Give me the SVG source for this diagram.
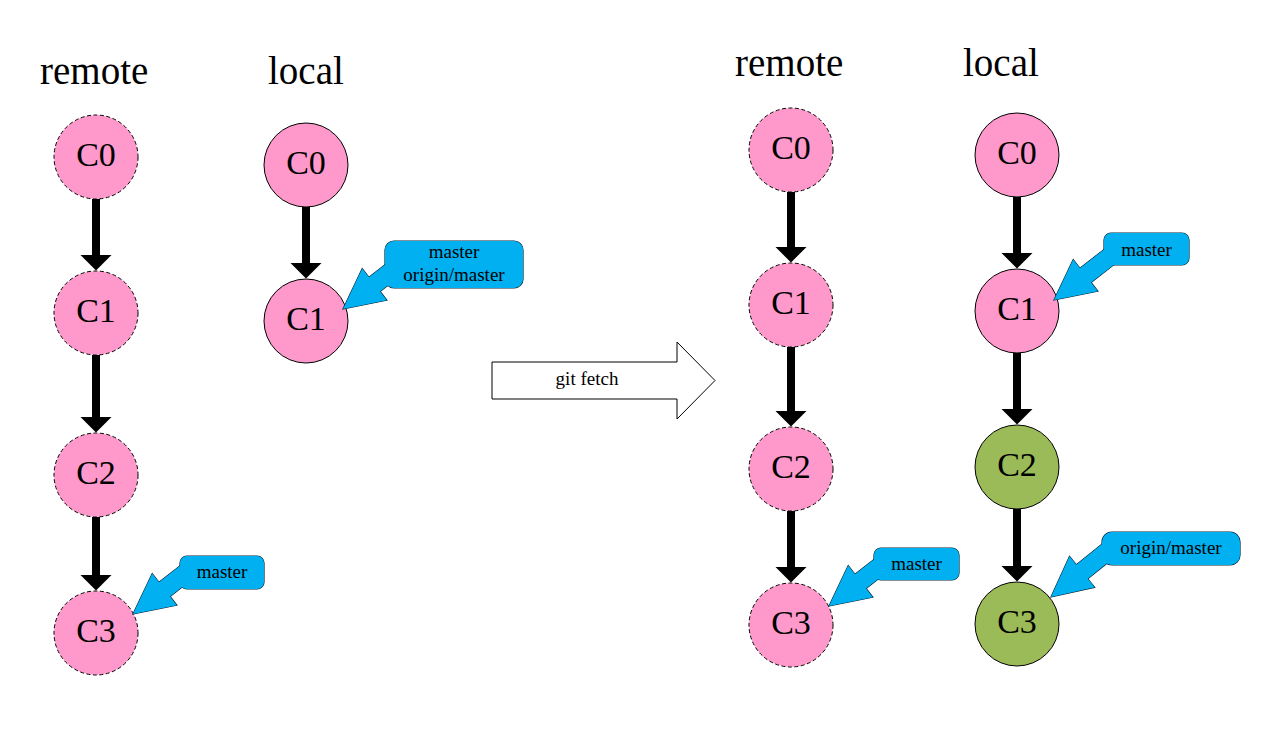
<svg xmlns="http://www.w3.org/2000/svg" width="1269" height="732" viewBox="0 0 1269 732">
<defs>
<style>
.title{font-family:"Liberation Serif","Times New Roman",serif;font-size:39px;fill:#000}
.lbl{font-family:"Liberation Serif","Times New Roman",serif;font-size:34px;fill:#000;text-anchor:middle}
.ctext{font-family:"Liberation Serif","Times New Roman",serif;font-size:19px;fill:#000;text-anchor:middle}
.remote{fill:#FF99CC;stroke:#000;stroke-width:1;stroke-dasharray:4 2.5}
.pink{fill:#FF99CC;stroke:#000;stroke-width:1}
.green{fill:#9BBB59;stroke:#000;stroke-width:1}
.edge{stroke:#000;stroke-width:8;fill:none}
.cs{fill:#00B0F0;stroke:#0a2230;stroke-width:1.2}
.cf{fill:#00B0F0;stroke:none}
</style>
<marker id="ah" markerUnits="userSpaceOnUse" markerWidth="17" markerHeight="34" viewBox="0 -17 17 34" refX="0.5" refY="0" orient="auto">
<path d="M0,-16 L16,0 L0,16 z" fill="#000"/>
</marker>
<polygon id="ptr" points="0,0 40,-20 40,-9 75,-9 75,9 40,9 40,20"/>
</defs>
<rect width="1269" height="732" fill="#fff"/>

<text class="title" x="40" y="84">remote</text>
<text class="title" x="268" y="84">local</text>
<text class="title" x="735" y="76">remote</text>
<text class="title" x="963" y="76">local</text>

<g id="connectors">
<line class="edge" x1="96" y1="199" x2="96" y2="255" marker-end="url(#ah)"/>
<line class="edge" x1="96" y1="355" x2="96" y2="417" marker-end="url(#ah)"/>
<line class="edge" x1="96" y1="517" x2="96" y2="575" marker-end="url(#ah)"/>
<line class="edge" x1="306" y1="207" x2="306" y2="263" marker-end="url(#ah)"/>
<line class="edge" x1="791" y1="192" x2="791" y2="247" marker-end="url(#ah)"/>
<line class="edge" x1="791" y1="347" x2="791" y2="411" marker-end="url(#ah)"/>
<line class="edge" x1="791" y1="511" x2="791" y2="567" marker-end="url(#ah)"/>
<line class="edge" x1="1017" y1="197" x2="1017" y2="253" marker-end="url(#ah)"/>
<line class="edge" x1="1017" y1="353" x2="1017" y2="409" marker-end="url(#ah)"/>
<line class="edge" x1="1017" y1="509" x2="1017" y2="566" marker-end="url(#ah)"/>
</g>

<g id="lr-c0"><circle class="remote" cx="96" cy="157" r="42"/><text class="lbl" x="96" y="166">C0</text></g>
<g id="lr-c1"><circle class="remote" cx="96" cy="313" r="42"/><text class="lbl" x="96" y="322">C1</text></g>
<g id="lr-c2"><circle class="remote" cx="96" cy="475" r="42"/><text class="lbl" x="96" y="484">C2</text></g>
<g id="lr-c3"><circle class="remote" cx="96" cy="633" r="42"/><text class="lbl" x="96" y="642">C3</text></g>

<g id="ll-c0"><circle class="pink" cx="306" cy="165" r="42"/><text class="lbl" x="306" y="174">C0</text></g>
<g id="ll-c1"><circle class="pink" cx="306" cy="321" r="42"/><text class="lbl" x="306" y="330">C1</text></g>

<g id="rr-c0"><circle class="remote" cx="791" cy="150" r="42"/><text class="lbl" x="791" y="159">C0</text></g>
<g id="rr-c1"><circle class="remote" cx="791" cy="305" r="42"/><text class="lbl" x="791" y="314">C1</text></g>
<g id="rr-c2"><circle class="remote" cx="791" cy="469" r="42"/><text class="lbl" x="791" y="478">C2</text></g>
<g id="rr-c3"><circle class="remote" cx="791" cy="625" r="42"/><text class="lbl" x="791" y="634">C3</text></g>

<g id="rl-c0"><circle class="pink" cx="1017" cy="155" r="42"/><text class="lbl" x="1017" y="164">C0</text></g>
<g id="rl-c1"><circle class="pink" cx="1017" cy="311" r="42"/><text class="lbl" x="1017" y="320">C1</text></g>
<g id="rl-c2"><circle class="green" cx="1017" cy="467" r="42"/><text class="lbl" x="1017" y="476">C2</text></g>
<g id="rl-c3"><circle class="green" cx="1017" cy="624" r="42"/><text class="lbl" x="1017" y="633">C3</text></g>

<g id="git-fetch">
<polygon points="492,362 677,362 677,342 715,380.5 677,419 677,399 492,399" fill="#fff" stroke="#000" stroke-width="1"/>
<text class="ctext" x="587" y="385" font-size="20">git fetch</text>
</g>

<g id="callout-lr-master">
<use href="#ptr" class="cs" transform="translate(133,614) rotate(-38)"/>
<rect class="cs" x="180" y="556" width="84" height="33" rx="7"/>
<use href="#ptr" class="cf" transform="translate(133,614) rotate(-38)"/>
<rect class="cf" x="180" y="556" width="84" height="33" rx="7"/>
<text class="ctext" x="222" y="578">master</text>
</g>

<g id="callout-ll-master">
<use href="#ptr" class="cs" transform="translate(343,309) rotate(-38)"/>
<rect class="cs" x="385" y="241" width="138" height="47" rx="9"/>
<use href="#ptr" class="cf" transform="translate(343,309) rotate(-38)"/>
<rect class="cf" x="385" y="241" width="138" height="47" rx="9"/>
<text class="ctext" x="454" y="258">master</text>
<text class="ctext" x="454" y="281">origin/master</text>
</g>

<g id="callout-rr-master">
<use href="#ptr" class="cs" transform="translate(829,606) rotate(-38)"/>
<rect class="cs" x="874" y="548" width="85" height="32" rx="7"/>
<use href="#ptr" class="cf" transform="translate(829,606) rotate(-38)"/>
<rect class="cf" x="874" y="548" width="85" height="32" rx="7"/>
<text class="ctext" x="916.5" y="570">master</text>
</g>

<g id="callout-rl-master">
<use href="#ptr" class="cs" transform="translate(1054,300) rotate(-38)"/>
<rect class="cs" x="1104" y="233" width="85" height="32" rx="7"/>
<use href="#ptr" class="cf" transform="translate(1054,300) rotate(-38)"/>
<rect class="cf" x="1104" y="233" width="85" height="32" rx="7"/>
<text class="ctext" x="1146.5" y="256">master</text>
</g>

<g id="callout-rl-origin">
<use href="#ptr" class="cs" transform="translate(1051,597) rotate(-39)"/>
<rect class="cs" x="1102" y="532" width="138" height="33" rx="10"/>
<use href="#ptr" class="cf" transform="translate(1051,597) rotate(-39)"/>
<rect class="cf" x="1102" y="532" width="138" height="33" rx="10"/>
<text class="ctext" x="1171" y="554">origin/master</text>
</g>
</svg>
